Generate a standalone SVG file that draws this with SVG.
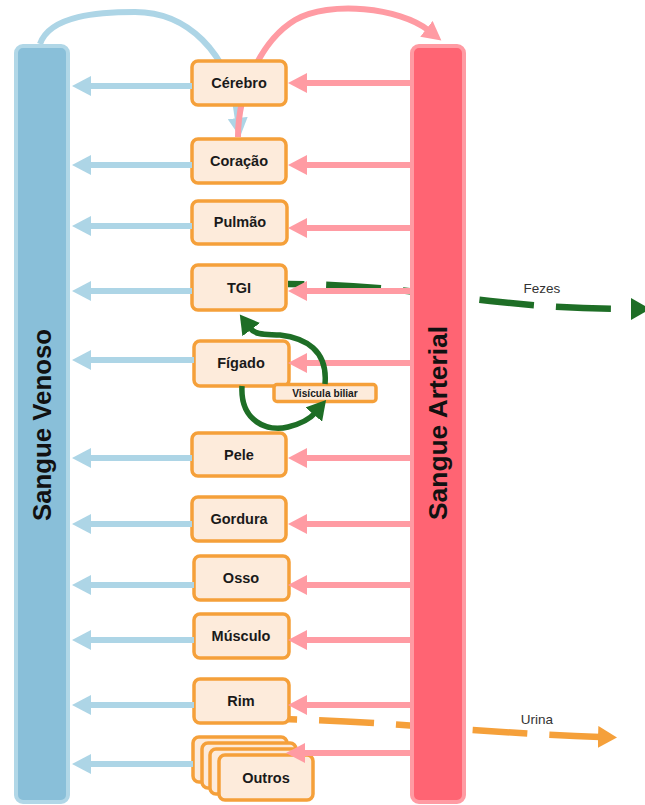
<svg xmlns="http://www.w3.org/2000/svg" width="645" height="805" viewBox="0 0 645 805">
<style>
.box{fill:#FDEBDB;stroke:#F5A03A;stroke-width:3.5}
.lbl{font-family:"Liberation Sans",Arial,sans-serif;font-weight:bold;font-size:14.5px;fill:#1a1a1a;text-anchor:middle}
.small{font-size:10.2px}
.bar{font-family:"Liberation Sans",Arial,sans-serif;font-weight:bold;font-size:25px;fill:#111;text-anchor:middle}
.note{font-family:"Liberation Sans",Arial,sans-serif;font-size:13.5px;fill:#333;text-anchor:middle}
.ven{fill:none;stroke:#ADD5E6;stroke-width:6;marker-end:url(#mBlue)}
.art{fill:none;stroke:#FF9BA3;stroke-width:6;marker-end:url(#mPink)}
.grn{fill:none;stroke:#1E6E26;stroke-width:5.5;marker-end:url(#mGreen)}
</style>
<defs>
<marker id="mBlue" markerUnits="userSpaceOnUse" viewBox="0 0 20 20" markerWidth="20" markerHeight="20" refX="2" refY="10" orient="auto"><path d="M0,0 L19,10 L0,20 z" fill="#ADD5E6"/></marker>
<marker id="mPink" markerUnits="userSpaceOnUse" viewBox="0 0 20 20" markerWidth="20" markerHeight="20" refX="2" refY="10" orient="auto"><path d="M0,0 L19,10 L0,20 z" fill="#FF9BA3"/></marker>
<marker id="mGreen" markerUnits="userSpaceOnUse" viewBox="0 0 20 22" markerWidth="20" markerHeight="22" refX="2" refY="11" orient="auto"><path d="M0,0 L19,11 L0,22 z" fill="#1E6E26"/></marker>
<marker id="mOrange" markerUnits="userSpaceOnUse" viewBox="0 0 20 22" markerWidth="20" markerHeight="22" refX="2" refY="11" orient="auto"><path d="M0,0 L19,11 L0,22 z" fill="#F5A03A"/></marker>
</defs>

<g id="connectors-back">
<path d="M40,44 C50,15 100,12 135,12 C185,12 230,50 238,120" class="ven"/>
<path d="M238,137 C238,90 262,40 295,20 C330,0 400,8 428,30" class="art"/>
<path d="M288,284 C380,284 440,296 500,302 C545,307 590,309 633,309" fill="none" stroke="#1E6E26" stroke-width="6.5" stroke-dasharray="55 22" stroke-dashoffset="39" marker-end="url(#mGreen)"/>
<path d="M283,719 C400,722 480,733 600,737" fill="none" stroke="#F5A03A" stroke-width="6.5" stroke-dasharray="55 22" stroke-dashoffset="41" marker-end="url(#mOrange)"/>
</g>

<g id="sangue-venoso">
<rect x="16" y="46" width="52" height="756" rx="7" fill="#89BFD9" stroke="#B1D7E7" stroke-width="4"/>
<text class="bar" transform="translate(51,425) rotate(-90)" textLength="192" lengthAdjust="spacingAndGlyphs">Sangue Venoso</text>
</g>
<g id="sangue-arterial">
<rect x="412" y="46" width="52" height="756" rx="7" fill="#FF6473" stroke="#FF9BA3" stroke-width="4"/>
<text class="bar" transform="translate(447,423) rotate(-90)" textLength="194" lengthAdjust="spacingAndGlyphs">Sangue Arterial</text>
</g>

<g id="cerebro"><rect class="box" x="192" y="61" width="94" height="44" rx="6"/><text class="lbl" x="239" y="88">Cérebro</text></g>
<g id="coracao"><rect class="box" x="192" y="139" width="94" height="44" rx="6"/><text class="lbl" x="239" y="166">Coração</text></g>
<g id="pulmao"><rect class="box" x="192" y="201" width="95" height="43" rx="6"/><text class="lbl" x="240" y="227">Pulmão</text></g>
<g id="tgi"><rect class="box" x="192" y="265" width="94" height="45" rx="6"/><text class="lbl" x="239" y="293">TGI</text></g>
<g id="figado"><rect class="box" x="194" y="341" width="95" height="45" rx="6"/><text class="lbl" x="241" y="368">Fígado</text></g>
<g id="visicula"><rect class="box" x="274" y="384.5" width="102" height="17" rx="3" stroke-width="3"/><text class="lbl small" x="325" y="397">Visícula biliar</text></g>
<g id="pele"><rect class="box" x="192" y="433" width="94" height="43" rx="6"/><text class="lbl" x="239" y="460">Pele</text></g>
<g id="gordura"><rect class="box" x="192" y="497" width="94" height="44" rx="6"/><text class="lbl" x="239" y="524">Gordura</text></g>
<g id="osso"><rect class="box" x="194" y="556" width="95" height="44" rx="6"/><text class="lbl" x="241" y="583">Osso</text></g>
<g id="musculo"><rect class="box" x="194" y="614" width="95" height="44" rx="6"/><text class="lbl" x="241" y="641">Músculo</text></g>
<g id="rim"><rect class="box" x="194" y="679" width="95" height="44" rx="6"/><text class="lbl" x="241" y="706">Rim</text></g>
<g id="outros">
<rect class="box" x="193" y="737" width="94" height="45" rx="6"/>
<rect class="box" x="202" y="743" width="94" height="45" rx="6"/>
<rect class="box" x="210" y="749" width="94" height="45" rx="6"/>
<rect class="box" x="219" y="755" width="94" height="45" rx="6"/>
<text class="lbl" x="266" y="783">Outros</text>
</g>

<g id="connectors">
<path d="M192,86 H89" class="ven"/>
<path d="M192,165 H89" class="ven"/>
<path d="M192,226 H89" class="ven"/>
<path d="M192,291 H89" class="ven"/>
<path d="M194,360 H89" class="ven"/>
<path d="M192,458 H89" class="ven"/>
<path d="M192,524 H89" class="ven"/>
<path d="M194,585 H89" class="ven"/>
<path d="M194,640 H89" class="ven"/>
<path d="M194,705 H89" class="ven"/>
<path d="M193,764 H89" class="ven"/>
<path d="M410,83 H305" class="art"/>
<path d="M410,165 H305" class="art"/>
<path d="M410,228 H305" class="art"/>
<path d="M410,291 H305" class="art"/>
<path d="M410,363 H305" class="art"/>
<path d="M410,458 H305" class="art"/>
<path d="M410,524 H305" class="art"/>
<path d="M410,585 H305" class="art"/>
<path d="M410,640 H305" class="art"/>
<path d="M410,705 H305" class="art"/>
<path d="M410,753 H303" class="art"/>
<path d="M242,386 C240,422 268,432 288,427 C300,424 309,420 315,413" class="grn"/>
<path d="M325,384 C328,350 305,338 280,335 C268,334 256,336 250,328" class="grn"/>
<text class="note" x="542" y="293">Fezes</text>
<text class="note" x="537" y="724">Urina</text>
</g>
</svg>
